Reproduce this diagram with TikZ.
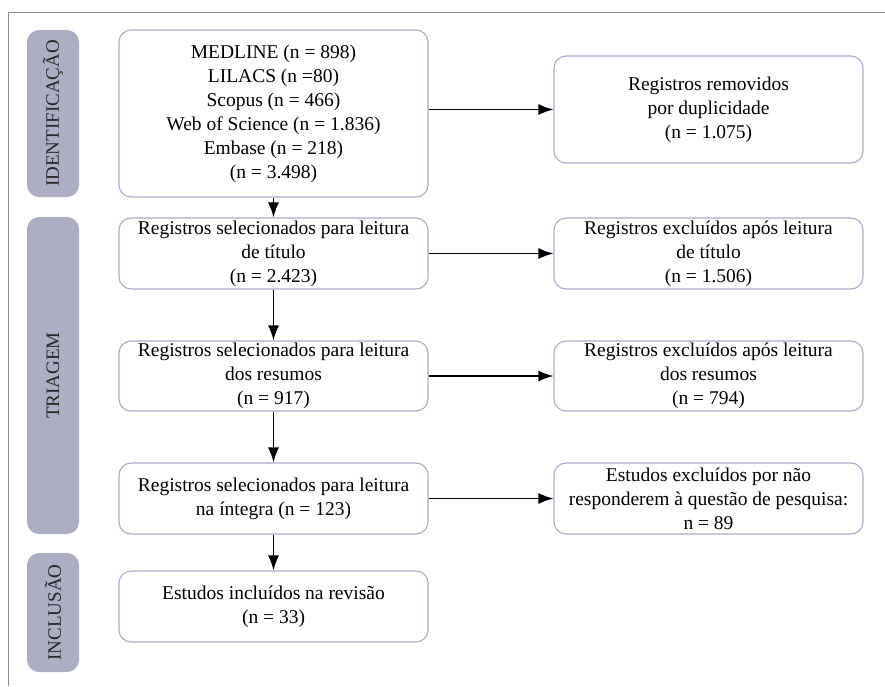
\documentclass[tikz,border=0pt]{standalone}
\usepackage{fontspec}
\setmainfont{Liberation Serif}
\usetikzlibrary{arrows.meta}
\definecolor{boxline}{HTML}{A9A9CC}
\definecolor{sidefill}{HTML}{ADADC3}
\definecolor{framegray}{HTML}{8C8C8C}
\tikzset{
  flowbox/.style={draw=boxline, line width=1.1pt, rounded corners=12pt, align=center,
    minimum width=309pt, inner sep=0pt, font=\fontsize{19.5}{24}\selectfont, text=black},
  sidebox/.style={fill=sidefill, rounded corners=12pt, minimum width=52pt, inner sep=0pt,
    font=\fontsize{19}{22}\selectfont, text=black!85},
  conn/.style={line width=1.4pt, -{Latex[length=15pt,width=11pt]}},
}
\begin{document}
\begin{tikzpicture}[x=1pt,y=-1pt]
\useasboundingbox (0,0) rectangle (885,686);
\draw[framegray, line width=1pt] (885,12) -- (8,12) -- (8,686);

% side labels
\node[sidebox, minimum height=167pt] (sid) at (53,113.5) {\rotatebox{90}{IDENTIFICAÇÃO}};
\node[sidebox, minimum height=317pt] (str) at (53,375.5) {\rotatebox{90}{TRIAGEM}};
\node[sidebox, minimum height=119pt] (sin) at (53,612.5) {\rotatebox{90}{INCLUSÃO}};

% left column
\node[flowbox, minimum height=167pt] (L1) at (273.5,113.5) {MEDLINE (n = 898)\\LILACS (n =80)\\Scopus (n = 466)\\Web of Science (n = 1.836)\\Embase (n = 218)\\(n = 3.498)};
\node[flowbox, minimum height=71pt] (L2) at (273.5,253.5) {Registros selecionados para leitura\\de título\\(n = 2.423)};
\node[flowbox, minimum height=70pt] (L3) at (273.5,376) {Registros selecionados para leitura\\dos resumos\\(n = 917)};
\node[flowbox, minimum height=71pt] (L4) at (273.5,498.5) {Registros selecionados para leitura\\na íntegra (n = 123)};
\node[flowbox, minimum height=71pt] (L5) at (273.5,606.5) {Estudos incluídos na revisão\\(n = 33)};

% right column
\node[flowbox, minimum height=107pt] (R1) at (708.5,109.5) {Registros removidos\\por duplicidade\\(n = 1.075)};
\node[flowbox, minimum height=71pt] (R2) at (708.5,253.5) {Registros excluídos após leitura\\de título\\(n = 1.506)};
\node[flowbox, minimum height=70pt] (R3) at (708.5,376) {Registros excluídos após leitura\\dos resumos\\(n = 794)};
\node[flowbox, minimum height=71pt] (R4) at (708.5,498.5) {Estudos excluídos por não\\responderem à questão de pesquisa:\\n = 89};

% connectors
\draw[conn] (L1.east |- R1.west) -- (R1.west);
\draw[conn] (L2.east) -- (R2.west);
\draw[conn] (L3.east) -- (R3.west);
\draw[conn] (L4.east) -- (R4.west);
\draw[conn] (L1.south) -- (L2.north);
\draw[conn] (L2.south) -- (L3.north);
\draw[conn] (L3.south) -- (L4.north);
\draw[conn] (L4.south) -- (L5.north);
\end{tikzpicture}
\end{document}
